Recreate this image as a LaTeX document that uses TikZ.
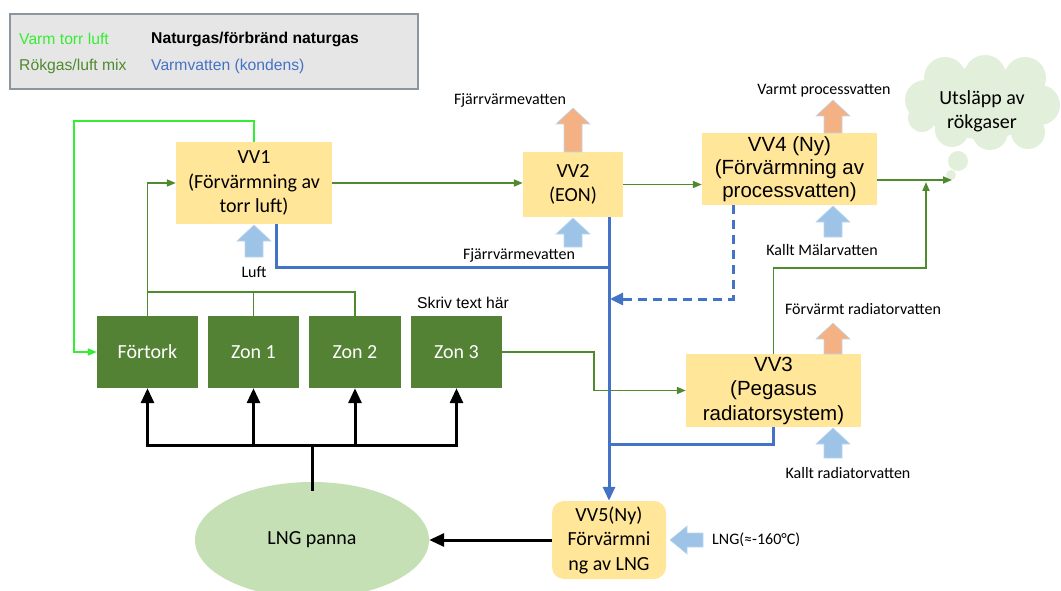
\documentclass[tikz,border=0pt]{standalone}
\usepackage{fontspec}
\setmainfont{Carlito}
\newfontfamily\arialf{Liberation Sans}
\usetikzlibrary{arrows.meta,shapes.geometric}
\definecolor{boxy}{HTML}{FFE699}
\definecolor{zong}{HTML}{548235}
\definecolor{lineg}{HTML}{4F8A2E}
\definecolor{brightg}{HTML}{33EE33}
\definecolor{lngg}{HTML}{C5E0B4}
\definecolor{cloudg}{HTML}{E2EFDA}
\definecolor{bluel}{HTML}{4472C4}
\definecolor{arrblue}{HTML}{9DC3E6}
\definecolor{arrorange}{HTML}{F4B183}
\definecolor{arredge}{HTML}{BDD7EE}
\definecolor{legbg}{HTML}{E7E6E6}
\definecolor{legedge}{HTML}{8C96A0}
\newcommand\uparrowblk[4]{%
  \filldraw[fill=#4, draw=arredge, line width=0.6pt] (#1-9,#2) -- (#1-9,#3+16) -- (#1-17,#3+16) -- (#1,#3) -- (#1+17,#3+16) -- (#1+9,#3+16) -- (#1+9,#2) -- cycle;}
\begin{document}
\begin{tikzpicture}[x=1pt,y=-1pt,
  ybox/.style={rectangle, fill=boxy, draw=none, inner sep=0pt, align=center, font=\fontsize{20}{24.5}\selectfont},
  zbox/.style={rectangle, fill=zong, draw=none, inner sep=0pt, text=white, minimum height=72, font=\fontsize{20}{24}\selectfont},
  lab/.style={inner sep=0pt, font=\fontsize{16}{18}\selectfont},
  legtext/.style={anchor=west, inner sep=0pt, font=\arialf\fontsize{15.7}{18}\selectfont},
  gline/.style={draw=lineg, line width=1.8pt},
  garrow/.style={gline, -{Triangle[length=9pt,width=7pt]}},
  brarrow/.style={draw=brightg, line width=1.8pt, -{Triangle[length=9pt,width=7pt]}},
  bline/.style={draw=bluel, line width=3pt},
  blarrow/.style={bline, -{Triangle[length=14pt,width=12pt]}},
  kline/.style={draw=black, line width=3pt},
  karrow/.style={kline, -{Triangle[length=15pt,width=13pt]}},
]
\useasboundingbox (0,0) rectangle (1061,591);

% legend
\node[draw=legedge, fill=legbg, line width=1.5pt, minimum width=408, minimum height=75, inner sep=0pt] (legend) at (214,51.5) {};
\node[legtext, text=brightg] (lg1) at (19,39) {Varm torr luft};
\node[legtext, font=\arialf\bfseries\fontsize{15.7}{18}\selectfont] (lg2) at (151,39) {Naturgas/förbränd naturgas};
\node[legtext, text=lineg] (lg3) at (19,66) {Rökgas/luft mix};
\node[legtext, text=bluel] (lg4) at (151,66) {Varmvatten (kondens)};

% main boxes
\node[ybox, minimum width=156, minimum height=82] (VV1) at (254,183) {VV1\\(Förvärmning av\\torr luft)};
\node[ybox, minimum width=100, minimum height=65] (VV2) at (573,184.5) {VV2\\(EON)};
\node[ybox, minimum width=175, minimum height=72, font=\arialf\fontsize{20.5}{23}\selectfont] (VV4) at (789.5,169) {VV4 (Ny)\\(Förvärmning av\\processvatten)};
\node[ybox, minimum width=175, minimum height=73, font=\arialf\fontsize{20.5}{24.5}\selectfont] (VV3) at (773.5,390.5) {VV3\\(Pegasus\\radiatorsystem)};
\node[ybox, rounded corners=12pt, minimum width=114, minimum height=78] (VV5) at (609,540) {VV5(Ny)\\Förvärmni\\ng av LNG};

\node[zbox, minimum width=101] (fortork) at (147.5,352) {Förtork};
\node[zbox, minimum width=91] (zon1) at (253.5,352) {Zon 1};
\node[zbox, minimum width=92] (zon2) at (355,352) {Zon 2};
\node[zbox, minimum width=91] (zon3) at (456.5,352) {Zon 3};

\node[ellipse, fill=lngg, minimum width=234, minimum height=116, inner sep=0pt, font=\fontsize{20}{24}\selectfont] (lng) at (312,540) {LNG panna};

% cloud (drawn from puffs)
\fill[cloudg] (982,103) ellipse [x radius=62, y radius=36];
\fill[cloudg] (925,100) circle (20);
\fill[cloudg] (945,78) circle (21);
\fill[cloudg] (985,76) circle (21);
\fill[cloudg] (1025,78) circle (21);
\fill[cloudg] (1040,105) circle (20);
\fill[cloudg] (1028,132) circle (17);
\fill[cloudg] (990,132) circle (18);
\fill[cloudg] (952,130) circle (17);
\fill[cloudg] (922,118) circle (14);
\fill[cloudg] (958,161) circle (10);
\fill[cloudg] (951,175) circle (5);
\node[align=center, inner sep=0pt, font=\fontsize{20}{24}\selectfont] (cloud) at (982,111) {Utsläpp av\\rökgaser};
\coordinate (cloudin) at (952,180);

% labels
\node[lab] (l1) at (510,100) {Fjärrvärmevatten};
\node[lab] (l2) at (824,91) {Varmt processvatten};
\node[lab] (l3) at (519,255) {Fjärrvärmevatten};
\node[lab] (l4) at (254,272) {Luft};
\node[lab] (l5) at (822,250) {Kallt Mälarvatten};
\node[lab] (l6) at (863,309) {Förvärmt radiatorvatten};
\node[lab] (l7) at (848,473) {Kallt radiatorvatten};
\node[lab, anchor=west] (l8) at (712,540) {LNG(≈-160°C)};
\node[lab, font=\arialf\fontsize{15.7}{18}\selectfont] (l9) at (463,303) {Skriv text här};

% block arrows
\uparrowblk{573}{152}{108}{arrorange}
\uparrowblk{833}{133}{100}{arrorange}
\uparrowblk{833}{354}{323}{arrorange}
\uparrowblk{254}{257}{225}{arrblue}
\uparrowblk{573}{247}{218}{arrblue}
\uparrowblk{833}{237}{206}{arrblue}
\uparrowblk{833}{458}{428}{arrblue}
\filldraw[fill=arrblue, draw=arredge, line width=0.6pt] (703,533) -- (687,533) -- (687,526) -- (670,540) -- (687,554) -- (687,547) -- (703,547) -- cycle;

% bright green
\draw[brarrow] (VV1.north) |- (74,121) |- (fortork.west);

% dark green
\coordinate (busL) at (147.5,292);
\draw[garrow] (fortork.north) |- (VV1.west);
\draw[gline] (zon2.north) |- (busL);
\draw[gline] (zon1.north) -- (zon1.north |- busL);
\draw[garrow] (VV1.east) -- (VV1.east -| VV2.west);
\draw[garrow] (VV2.east) -- (VV2.east -| VV4.west);
\draw[garrow] (VV4.east |- cloudin) -- (cloudin);
\coordinate (upj) at (926,182);
\draw[garrow] (VV3.north) |- (926,268) -- (upj);
\draw[garrow] (zon3.east) -- ++(92,0) |- (VV3.west);

% blue
\coordinate (bj) at (609,267);
\draw[bline] ([xshift=22pt]VV1.south) |- (bj);
\draw[blarrow] (VV5.north |- VV2.south) -- (VV5.north);
\draw[bline, dash pattern=on 9pt off 6pt, -{Triangle[length=13pt,width=12pt]}] ([xshift=-56pt]VV4.south) |- (610,299);
\draw[bline] (VV3.south) |- (609,444);

% black
\coordinate (kb) at (312,445);
\draw[kline] ([yshift=-9pt]lng.north) -- (kb);
\draw[karrow] (kb) -| (fortork.south);
\draw[karrow] (kb) -| (zon1.south);
\draw[karrow] (kb) -| (zon2.south);
\draw[karrow] (kb) -| (zon3.south);
\draw[karrow] (VV5.west) -- (lng.east);
\end{tikzpicture}
\end{document}
